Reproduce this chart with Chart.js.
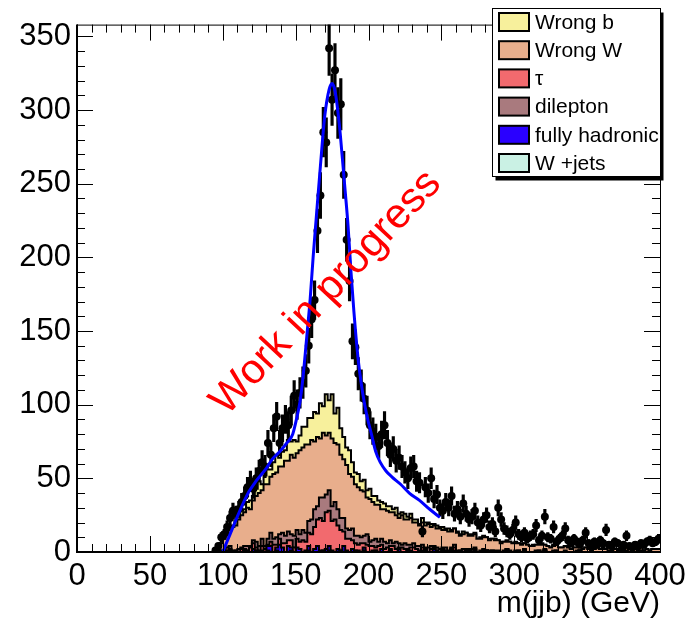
<!DOCTYPE html>
<html>
<head>
<meta charset="utf-8">
<script src="https://cdn.jsdelivr.net/npm/chart.js@4.4.1/dist/chart.umd.min.js"></script>
<style>
html,body{margin:0;padding:0;background:#fff;}
canvas{display:block;}
</style>
</head>
<body>
<canvas id="c" width="697" height="626"></canvas>
<script>
// ---- binning (GeV): lower edge of first bin and bin width
const binStart = 94;
const binWidth = 2;

// ---- observed counts per bin (bin centres 95, 97, ..., 399)
const dataCounts = [
  1,4,10,12,17,23,28,26,29,34,
  38,44,48,43,50,55,61,58,74,66,
  84,92,74,84,90,86,96,106,100,108,
  115,123,140,158,171,218,242,285,278,342,
  307,327,298,304,256,212,184,143,139,121,
  113,104,96,86,82,78,72,80,86,74,
  66,70,62,64,58,54,50,57,58,48,
  47,14,44,40,50,36,39,30,28,34,
  30,38,26,29,24,33,26,22,24,28,
  20,18,22,25,17,19,14,30,22,16,
  14,12,15,20,12,10,13,9,11,12,
  18,8,11,24,10,9,17,7,9,11,
  16,8,6,9,7,5,8,13,6,4,
  7,5,8,6,15,5,4,7,6,1,
  5,11,4,3,5,4,6,5,7,8,
  6,7,9
];

// ---- stacked components (bottom to top)
const wJets = [
  0,0,0,0,0,0,1,0,0,0,
  0,1,0,0,0,1,0,0,0,1,
  0,0,1,0,0,0,0,1,0,0,
  0,0,0,1,0,0,0,0,1,0,
  1,0,0,0,1,0,0,0,0,1,
  0,0,1,0,0,0,1,0,0,0,
  0,1,0,0,0,0,0,1,0,0,
  0,0,0,1,0,0,0,0,0,1,
  0,0,1,0,0,0,0,0,1,0,
  0,0,0,0,1,0,0,0,0,0,
  0,1,0,0,0,0,0,1,0,0,
  0,0,0,0,1,0,0,0,0,0,
  0,0,0,0,0,0,1,0,0,0,
  0,0,0,0,0,0,0,0,0,0,
  0,0,0,0,0,0,0,0,0,0,
  0,0,0
];
const fullyHadronic = [
  0,0,0,0,0,1,0,0,0,0,
  0,0,1,0,2,0,0,1,0,3,
  4,0,2,5,3,0,4,2,0,3,
  2,0,1,3,0,2,4,1,0,2,
  3,1,0,2,0,4,1,0,2,0,
  1,0,2,0,0,1,0,0,2,0,
  0,1,0,0,2,0,0,0,1,0,
  0,0,1,0,0,0,2,0,0,0,
  0,0,0,1,0,0,0,0,0,0,
  1,0,0,0,0,0,0,0,0,0,
  0,0,0,0,0,0,0,0,0,0,
  0,0,0,0,0,0,0,0,0,0,
  0,0,0,0,0,0,0,0,0,0,
  0,0,0,0,0,0,0,0,0,0,
  0,0,0,0,0,0,0,0,0,0,
  0,0,0
];
const tauLepton = [
  0,0,0,1,0,2,1,0,1,0,
  2,1,0,3,4,2,1,3,2,1,
  3,5,2,4,3,6,4,5,3,6,
  5,8,6,9,12,15,18,22,20,25,
  24,20,22,16,14,10,8,9,6,5,
  4,6,3,5,4,3,2,4,3,2,
  3,2,4,2,1,3,2,1,2,3,
  2,1,2,1,0,2,1,1,0,1,
  1,0,1,2,0,1,0,1,0,0,
  1,0,0,1,0,0,1,0,0,0,
  0,1,0,0,0,1,0,0,0,0,
  0,0,1,0,0,0,0,0,1,0,
  0,0,0,0,0,0,0,0,0,0,
  0,0,0,0,0,0,0,0,0,0,
  0,0,0,0,0,0,0,0,0,0,
  0,0,0
];
const dilepton = [
  0,0,0,0,1,0,2,1,0,2,
  1,2,3,1,2,4,3,5,2,4,
  6,4,5,3,7,5,6,4,8,6,
  5,7,6,8,10,12,9,14,16,12,
  14,10,12,11,8,9,7,6,8,5,
  6,4,5,7,3,4,6,3,4,5,
  3,4,2,5,3,2,4,3,2,3,
  2,3,2,1,3,2,1,2,2,1,
  2,1,1,2,1,0,2,1,1,2,
  1,0,1,1,0,1,0,1,1,0,
  1,0,1,0,1,0,0,1,0,0,
  0,1,0,0,1,0,0,1,0,0,
  0,1,0,0,0,1,0,0,0,0,
  1,0,0,0,0,0,1,0,0,0,
  0,0,1,0,0,0,0,1,0,0,
  0,0,0
];
const wrongW = [
  0,0,2,5,8,9,11,16,17,20,
  22,23,26,25,27,31,36,33,42,37,
  38,44,44,46,45,51,48,54,53,52,
  57,56,60,52,54,46,47,40,44,40,
  39,46,40,44,43,40,43,38,35,35,
  33,32,30,25,29,26,23,25,20,22,
  22,19,21,18,17,20,16,17,18,14,
  16,14,15,15,16,13,14,13,14,12,
  12,13,11,11,12,10,10,11,9,9,
  9,9,8,8,9,7,8,7,7,6,
  6,5,6,6,5,5,5,4,5,4,
  4,4,4,5,3,4,3,3,4,3,
  3,3,3,2,3,2,3,2,3,2,
  2,2,3,2,2,2,2,1,2,2,
  2,1,2,2,1,2,1,2,1,2,
  1,2,2
];
const wrongB = [
  0,0,0,0,1,0,2,1,3,2,
  3,2,4,6,3,5,8,4,6,10,
  5,8,12,6,10,7,14,9,12,8,
  10,14,12,18,15,20,16,24,18,28,
  22,30,20,25,18,15,12,16,10,8,
  9,6,8,5,7,4,6,3,5,4,
  3,4,2,5,3,2,4,2,3,2,
  2,1,3,2,1,2,1,2,1,2,
  1,2,1,0,1,1,2,0,1,1,
  1,0,1,1,0,1,0,1,0,1,
  0,1,0,0,1,0,1,0,0,0,
  1,0,0,1,0,0,0,1,0,0,
  0,0,1,0,0,0,0,0,0,1,
  0,0,0,0,1,0,0,0,0,0,
  0,0,0,0,0,1,0,0,0,0,
  0,0,0
];

// ---- fitted curve
const fitGeV    = [100,105,110,114,118,122,126,130,134,139,144,148,151,153,155,158,160,162,164,167,170,173,175,177,180,182,184,186,188,190,193,196,199,202,205,208,212,216,222,228,235,242,249];
const fitValues = [0,12,24,33,41,47,52,57,63,68,74,80,92,102,118,150,172,200,225,262,296,314,318,313,290,268,245,221,190,163,130,108,92,80,68,61,55,51,46,40,35,29,23.5];

// ---- labels
const legendLabels = ['Wrong b','Wrong W','\u03c4','dilepton','fully hadronic','W +jets'];
const legendColors = ['#f7f09c','#e8ae8c','#f26a6e','#a97a7e','#2a00ff','#caf1e4'];
const stackLabels  = ['W +jets','fully hadronic','\u03c4','dilepton','Wrong W','Wrong b'];
const stackColors  = ['#caf1e4','#2a00ff','#f26a6e','#a97a7e','#e8ae8c','#f7f09c'];
const xTickValues = [0,50,100,150,200,250,300,350,400];
const yTickValues = [0,50,100,150,200,250,300,350];
const xTitle = 'm(jjb) (GeV)';
const stampText = 'Work in progress';

const FONT = '"Liberation Sans", Arial, Helvetica, sans-serif';

const nBins = dataCounts.length;
const lowEdges = dataCounts.map((_, i) => binStart + i * binWidth);
const centers = lowEdges.map(e => e + binWidth / 2);
const upperEnd = binStart + nBins * binWidth;

// cumulative stack built from components
const components = [wJets, fullyHadronic, tauLepton, dilepton, wrongW, wrongB];
let running = new Array(nBins).fill(0);
const stackSets = components.map((arr, k) => {
  running = running.map((r, i) => r + arr[i]);
  const pts = running.map((v, i) => ({x: lowEdges[i], y: v}));
  pts.push({x: upperEnd, y: running[nBins - 1]});
  return {
    type: 'line', label: stackLabels[k], data: pts, stepped: 'after',
    fill: k === 0 ? 'origin' : '-1',
    backgroundColor: stackColors[k], borderColor: '#000', borderWidth: 2,
    pointRadius: 0, order: 4
  };
});

const errSet = {
  type: 'bar', label: 'err',
  data: centers.map((c, i) => ({x: c, y: [dataCounts[i] - Math.sqrt(dataCounts[i]), dataCounts[i] + Math.sqrt(dataCounts[i])]})),
  backgroundColor: '#000', borderWidth: 0, barThickness: 2.5, order: 3
};
const pointSet = {
  type: 'line', label: 'data',
  data: centers.map((c, i) => ({x: c, y: dataCounts[i]})),
  showLine: false, pointRadius: 4, pointBackgroundColor: '#000', pointBorderWidth: 0, order: 2
};
const fitSet = {
  type: 'line', label: 'fit',
  data: fitGeV.map((x, i) => ({x: x, y: fitValues[i]})),
  borderColor: '#0000ff', borderWidth: 3, pointRadius: 0, fill: false,
  cubicInterpolationMode: 'monotone', order: 1
};

const decor = {
  id: 'decor',
  afterDraw(chart) {
    const ctx = chart.ctx;
    const {left, right, top, bottom} = chart.chartArea;
    const xs = chart.scales.x, ys = chart.scales.y;
    ctx.save();
    ctx.strokeStyle = '#000';
    // ticks
    ctx.lineWidth = 1;
    ctx.beginPath();
    for (let v = 0; v <= 400; v += 10) {
      const px = Math.round(xs.getPixelForValue(v)) + 0.5;
      const len = xTickValues.includes(v) ? 16 : 8;
      ctx.moveTo(px, bottom); ctx.lineTo(px, bottom - len);
      ctx.moveTo(px, top); ctx.lineTo(px, top + len);
    }
    for (let v = 0; v <= 350; v += 10) {
      const py = Math.round(ys.getPixelForValue(v)) + 0.5;
      const len = yTickValues.includes(v) ? 16 : 8;
      ctx.moveTo(left, py); ctx.lineTo(left + len, py);
      ctx.moveTo(right, py); ctx.lineTo(right - len, py);
    }
    ctx.stroke();
    // frame
    ctx.lineWidth = 1;
    ctx.strokeRect(left + 0.5, top + 0.5, right - left, bottom - top);
    ctx.lineWidth = 2;
    ctx.beginPath();
    ctx.moveTo(left, top); ctx.lineTo(left, bottom); ctx.lineTo(right, bottom);
    ctx.stroke();

    // stamp
    ctx.save();
    ctx.translate(xs.getPixelForValue(171), ys.getPixelForValue(176));
    ctx.rotate(-47 * Math.PI / 180);
    ctx.fillStyle = '#ff0000';
    ctx.font = '42px ' + FONT;
    ctx.textAlign = 'center';
    ctx.textBaseline = 'middle';
    ctx.fillText(stampText, 0, 0);
    ctx.restore();

    // legend box
    const bx = 492.5, by = 8.5, bw = 168, bh = 168;
    ctx.fillStyle = '#000';
    ctx.fillRect(bx + 3, by + 4, bw, bh);
    ctx.fillStyle = '#fff';
    ctx.fillRect(bx, by, bw, bh);
    ctx.lineWidth = 1;
    ctx.strokeRect(bx, by, bw, bh);
    ctx.font = '21px ' + FONT;
    ctx.textAlign = 'left';
    ctx.textBaseline = 'middle';
    for (let i = 0; i < legendLabels.length; i++) {
      const cy = 22 + i * 28.2;
      ctx.fillStyle = legendColors[i];
      ctx.fillRect(499, cy - 9, 30, 18);
      ctx.lineWidth = 2;
      ctx.strokeStyle = '#000';
      ctx.strokeRect(499, cy - 9, 30, 18);
      ctx.fillStyle = '#000';
      ctx.fillText(legendLabels[i], 535, cy + 1);
    }
    ctx.restore();
  }
};

new Chart(document.getElementById('c'), {
  type: 'line',
  data: { datasets: [...stackSets, errSet, pointSet, fitSet] },
  options: {
    responsive: false,
    animation: false,
    events: [],
    layout: { padding: { top: 13, right: 37, left: 0, bottom: 0 } },
    plugins: { legend: { display: false }, tooltip: { enabled: false } },
    scales: {
      x: {
        type: 'linear', min: 0, max: 400, offset: false,
        grid: { display: false, drawTicks: false },
        border: { display: false },
        ticks: { stepSize: 50, color: '#000', font: { size: 31, family: FONT }, padding: 6, maxRotation: 0, autoSkip: false },
        afterBuildTicks: s => { s.ticks = xTickValues.map(v => ({value: v})); },
        title: { display: true, text: xTitle, align: 'end', color: '#000', font: { size: 30, family: FONT }, padding: { top: 0, bottom: 4 } },
        afterFit: s => { s.height = 74; }
      },
      y: {
        type: 'linear', min: 0, max: 358,
        grid: { display: false, drawTicks: false },
        border: { display: false },
        ticks: { stepSize: 50, color: '#000', font: { size: 31, family: FONT }, padding: 6, autoSkip: false },
        afterBuildTicks: s => { s.ticks = yTickValues.map(v => ({value: v})); },
        afterFit: s => { s.width = 77; }
      }
    }
  },
  plugins: [decor]
});
</script>
</body>
</html>
